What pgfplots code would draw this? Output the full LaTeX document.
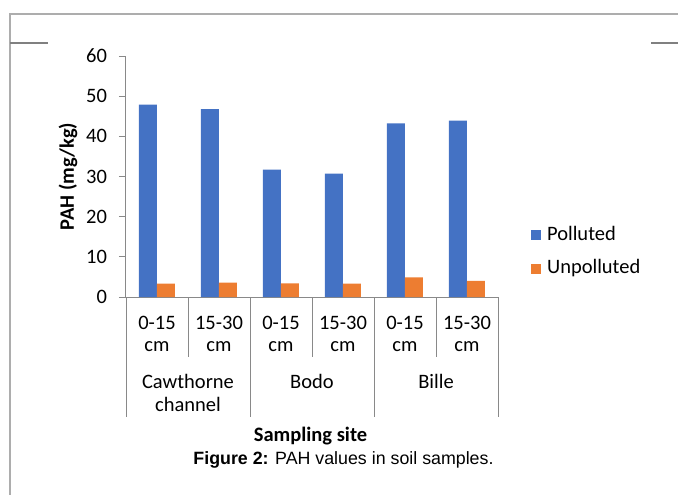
\documentclass[border=0pt]{standalone}
\usepackage{pgfplots}
\pgfplotsset{compat=1.18}
\usepackage{fontspec}
\setmainfont{Carlito}
\newfontfamily\arialfont{Liberation Sans}
\definecolor{pblue}{HTML}{4472C4}
\definecolor{porange}{HTML}{ED7D31}
\definecolor{axgray}{HTML}{898989}
\newcommand{\fs}{\fontsize{20.5bp}{24bp}\selectfont}
\begin{document}
\fs
\begin{tikzpicture}
\useasboundingbox (-126bp,-198bp) rectangle (552bp,297bp);
% frame
\draw[black!32, line width=1.6bp] (-116bp,-198bp) -- (-116bp,283bp) -- (552bp,283bp);
\draw[black!50, line width=1.5bp] (-116bp,254bp) -- (-78bp,254bp);
\draw[black!50, line width=1.5bp] (525bp,254bp) -- (552bp,254bp);
\begin{axis}[at={(0,0)}, anchor=south west, scale only axis,
  width=372bp, height=241bp,
  xmin=-0.5, xmax=5.5, ymin=0, ymax=60, ytick={0,10,...,60},
  axis lines*=left, xtick=\empty, tick align=outside, major tick length=7bp,
  axis line style={draw=axgray, line width=1bp},
  ytick style={draw=axgray, line width=1bp},
  ybar=0pt, bar width=18bp,
  /pgf/number format/assume math mode=true,
  yticklabel style={font=\fs, xshift=-5bp},
  ylabel={\textbf{PAH (mg/kg)}},
  ylabel style={at={(axis description cs:-0.156,0.5)}, anchor=center, font=\fs},
  xlabel={\textbf{Sampling site}},
  xlabel style={at={(axis description cs:0.496,-0.577)}, anchor=center, font=\fs},
  clip=false,
  legend style={draw=none, fill=none, at={(rel axis cs:1.089,0.187)}, anchor=west,
    inner sep=0pt, outer sep=0pt, row sep=15.5bp,
    nodes={inner sep=0pt, text height=14bp, text depth=4bp},
    font=\fs},
  legend cell align=left,
  legend image code/.code={\fill[#1] (0bp,-5bp) rectangle (10bp,5bp); \path (16bp,0bp);},
]
\addplot[fill=pblue, draw=none] coordinates {(0,47.9) (1,46.8) (2,31.7) (3,30.7) (4,43.2) (5,43.9)};
\addplot[fill=porange, draw=none] coordinates {(0,3.3) (1,3.6) (2,3.4) (3,3.3) (4,4.9) (5,4.0)};
\legend{Polluted, Unpolluted}
\end{axis}
% multi-level category axis
\foreach \x in {62,186,310} \draw[axgray, line width=1bp] (\x bp,0) -- (\x bp,-60bp);
\foreach \x in {0,124,248,372} \draw[axgray, line width=1bp] (\x bp,0) -- (\x bp,-120bp);
\foreach \x/\t in {31/0-15,93/15-30,155/0-15,217/15-30,279/0-15,341/15-30}{
  \node[anchor=base, inner sep=0pt] at (\x bp,-32.5bp) {\t};
  \node[anchor=base, inner sep=0pt] at (\x bp,-54bp) {cm};
}
\node[anchor=base, inner sep=0pt] at (62bp,-91.5bp) {Cawthorne};
\node[anchor=base, inner sep=0pt] at (62bp,-114bp) {channel};
\node[anchor=base, inner sep=0pt] at (186bp,-91.5bp) {Bodo};
\node[anchor=base, inner sep=0pt] at (310bp,-91.5bp) {Bille};
% caption
\node[anchor=center, inner sep=0pt, font=\arialfont\fontsize{17.8bp}{21bp}\selectfont] at (217.5bp,-163bp) {\textbf{Figure 2:} PAH values in soil samples.};
\end{tikzpicture}
\end{document}
